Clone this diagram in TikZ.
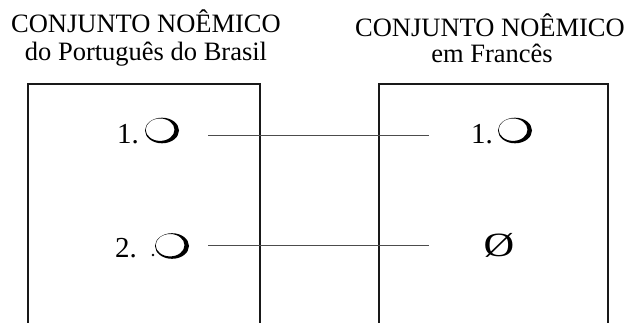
\documentclass[tikz,border=0pt]{standalone}
\usepackage{fontspec}
\setmainfont{Liberation Serif}
\begin{document}
\begin{tikzpicture}[x=1pt,y=-1pt,
  title/.style={anchor=base,inner sep=0pt,font=\fontsize{26.5}{30}\selectfont},
  item/.style={anchor=base west,inner sep=0pt,font=\fontsize{29}{30}\selectfont},
  boxline/.style={line width=2pt,black!90},
  link/.style={line width=1pt,black!70},
  ocirc/.pic={
    \fill[black,even odd rule] (0pt,0pt) ellipse [x radius=17pt,y radius=12.8pt]
      (-1.9pt,0.8pt) ellipse [x radius=14.4pt,y radius=11.2pt];
  }]
\useasboundingbox (0,0) rectangle (632,322);
% titles
\node[title] (t1a) at (146,32) {CONJUNTO NOÊMICO};
\node[title] (t1b) at (146,60) {do Português do Brasil};
\node[title] (t2a) at (490,36) {CONJUNTO NOÊMICO};
\node[title] (t2b) at (492,62) {em Francês};
% boxes (open at bottom)
\draw[boxline] (28,323) -- (28,84) -- (260,84) -- (260,323);
\draw[boxline] (379,323) -- (379,84) -- (608,84) -- (608,323);
% items left
\node[item] (l1) at (117,143) {1.};
\pic (l1c) at (162,130.5) {ocirc};
\node[item] (l2) at (115,257) {2.};
\fill (153,255) circle (1.3pt);
\pic (l2c) at (172,246) {ocirc};
% items right
\node[item] (r1) at (471,143) {1.};
\pic (r1c) at (515,130.5) {ocirc};
\node[anchor=center,inner sep=0pt,xscale=1.25,font=\fontsize{34}{34}\selectfont] (r2) at (499,245) {Ø};
% connectors
\coordinate (c1a) at (208,135);
\coordinate (c1b) at (429,135);
\coordinate (c2a) at (208,245);
\coordinate (c2b) at (429,245);
\draw[link] (c1a) -- (c1b);
\draw[link] (c2a) -- (c2b);
\end{tikzpicture}
\end{document}
